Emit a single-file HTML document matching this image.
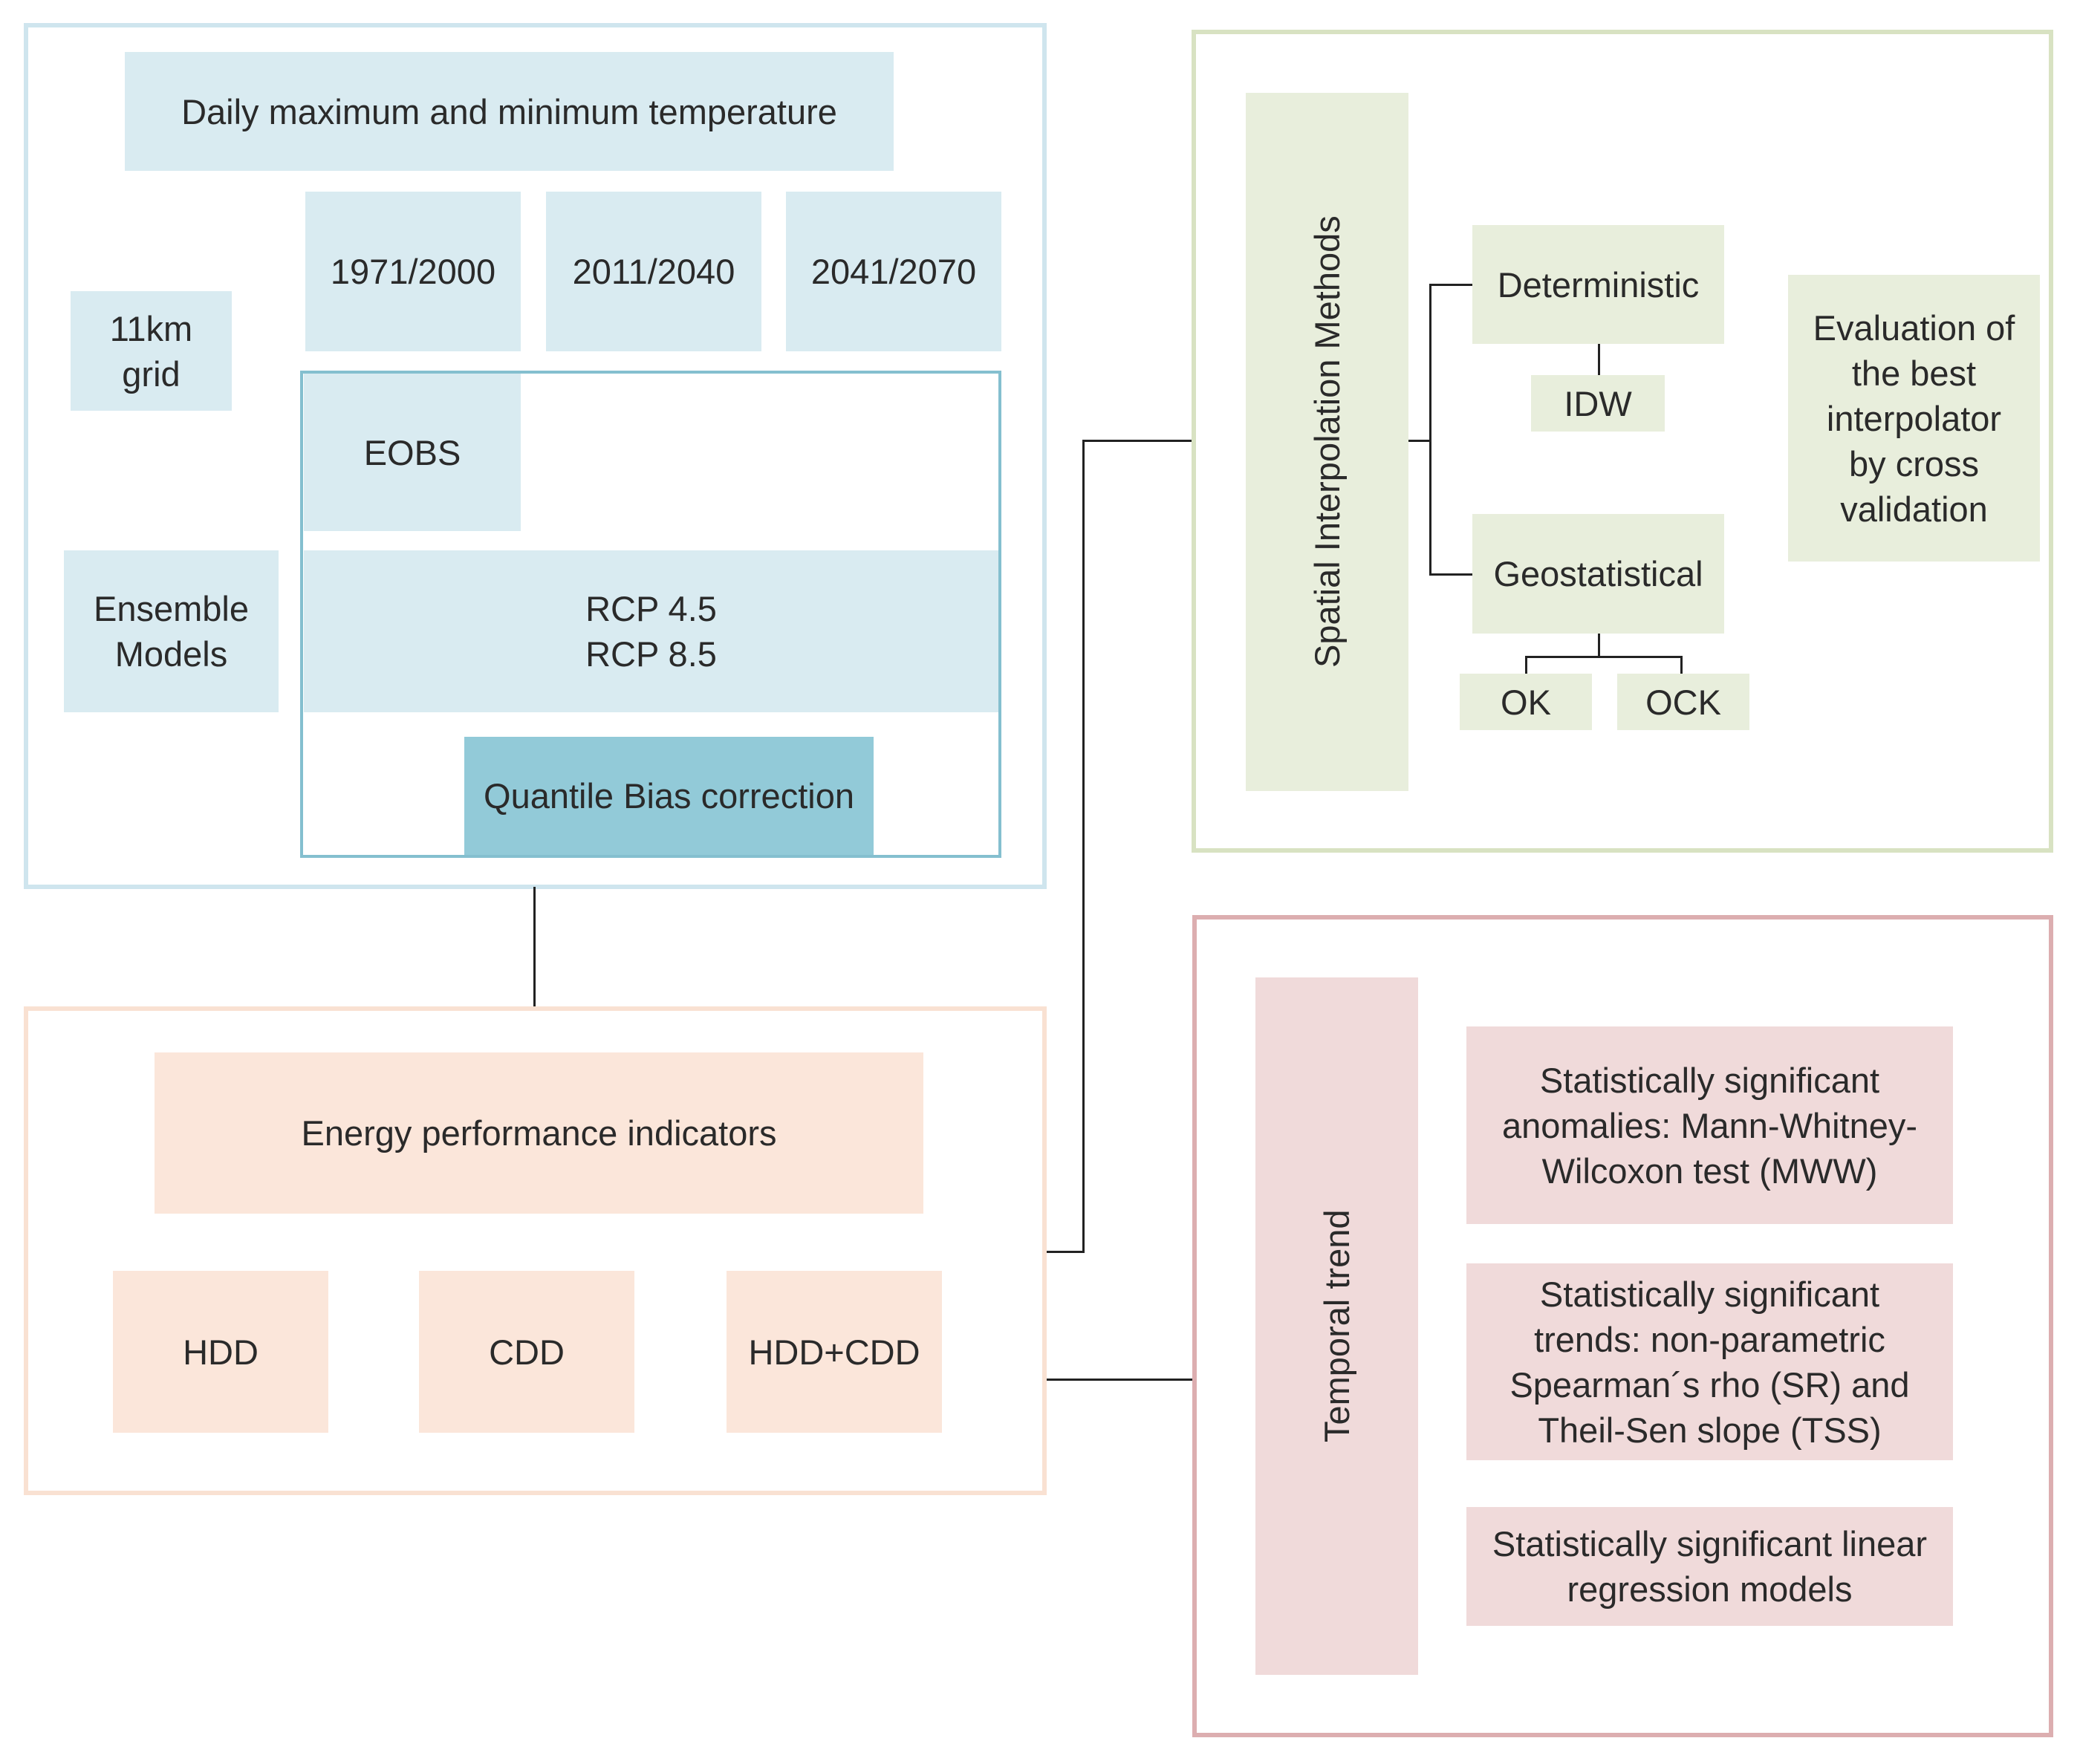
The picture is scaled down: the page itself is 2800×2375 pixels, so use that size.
<!DOCTYPE html>
<html><head><meta charset="utf-8"><style>
body{margin:0;background:#fff;}
#c{position:relative;width:2800px;height:2375px;overflow:hidden;font-family:"Liberation Sans",sans-serif;color:#2a2a2a;font-size:47px;}
.b{position:absolute;display:flex;align-items:center;justify-content:center;text-align:center;line-height:61px;box-sizing:border-box;white-space:nowrap;}
.o{position:absolute;box-sizing:border-box;}
.bl{background:#d9ebf1}.gr{background:#e8eedc}.or{background:#fbe6da}.pk{background:#f0dada}
.l{position:absolute;background:#222;}
.v{writing-mode:vertical-rl;transform:rotate(180deg);}
</style></head><body><div id="c">
<div class="o" style="left:32px;top:31px;width:1377px;height:1166px;border:6px solid #cfe5ee"></div>
<div class="b bl" style="left:168px;top:70px;width:1035px;height:160px">Daily maximum and minimum temperature</div>
<div class="b bl" style="left:411px;top:258px;width:290px;height:215px">1971/2000</div>
<div class="b bl" style="left:735px;top:258px;width:290px;height:215px">2011/2040</div>
<div class="b bl" style="left:1058px;top:258px;width:290px;height:215px">2041/2070</div>
<div class="b bl" style="left:95px;top:392px;width:217px;height:161px">11km<br>grid</div>
<div class="b bl" style="left:86px;top:741px;width:289px;height:218px">Ensemble<br>Models</div>
<div class="o" style="left:404px;top:499px;width:944px;height:656px;border:4px solid #84bfcf"></div>
<div class="b bl" style="left:409px;top:503px;width:292px;height:212px">EOBS</div>
<div class="b bl" style="left:409px;top:741px;width:935px;height:218px">RCP 4.5<br>RCP 8.5</div>
<div class="b" style="left:625px;top:992px;width:551px;height:159px;background:#92cad8">Quantile Bias correction</div>
<div class="l" style="left:718px;top:1194px;width:3px;height:163px"></div>
<div class="l" style="left:1458px;top:592px;width:146px;height:3px"></div>
<div class="l" style="left:1457px;top:592px;width:3px;height:1095px"></div>
<div class="l" style="left:1409px;top:1684px;width:51px;height:3px"></div>
<div class="l" style="left:1409px;top:1856px;width:196px;height:3px"></div>
<div class="o" style="left:1604px;top:40px;width:1160px;height:1108px;border:6px solid #d8e2c2"></div>
<div class="b gr v" style="left:1677px;top:125px;width:219px;height:940px">Spatial Interpolation Methods</div>
<div class="b gr" style="left:1982px;top:303px;width:339px;height:160px">Deterministic</div>
<div class="b gr" style="left:2061px;top:505px;width:180px;height:76px">IDW</div>
<div class="b gr" style="left:1982px;top:692px;width:339px;height:161px">Geostatistical</div>
<div class="b gr" style="left:1965px;top:907px;width:178px;height:76px">OK</div>
<div class="b gr" style="left:2177px;top:907px;width:178px;height:76px">OCK</div>
<div class="b gr" style="left:2407px;top:370px;width:339px;height:386px">Evaluation of<br>the best<br>interpolator<br>by cross<br>validation</div>
<div class="l" style="left:1896px;top:592px;width:30px;height:3px"></div>
<div class="l" style="left:1924px;top:382px;width:3px;height:392px"></div>
<div class="l" style="left:1924px;top:382px;width:58px;height:3px"></div>
<div class="l" style="left:1924px;top:772px;width:58px;height:3px"></div>
<div class="l" style="left:2151px;top:463px;width:3px;height:42px"></div>
<div class="l" style="left:2151px;top:853px;width:3px;height:32px"></div>
<div class="l" style="left:2053px;top:883px;width:212px;height:3px"></div>
<div class="l" style="left:2053px;top:883px;width:3px;height:24px"></div>
<div class="l" style="left:2262px;top:883px;width:3px;height:24px"></div>
<div class="o" style="left:32px;top:1355px;width:1377px;height:658px;border:6px solid #f9e1d2"></div>
<div class="b or" style="left:208px;top:1417px;width:1035px;height:217px">Energy performance indicators</div>
<div class="b or" style="left:152px;top:1711px;width:290px;height:218px">HDD</div>
<div class="b or" style="left:564px;top:1711px;width:290px;height:218px">CDD</div>
<div class="b or" style="left:978px;top:1711px;width:290px;height:218px">HDD+CDD</div>
<div class="o" style="left:1605px;top:1232px;width:1159px;height:1107px;border:6px solid #dcaeb0"></div>
<div class="b pk v" style="left:1690px;top:1316px;width:219px;height:939px">Temporal trend</div>
<div class="b pk" style="left:1974px;top:1382px;width:655px;height:266px">Statistically significant<br>anomalies: Mann-Whitney-<br>Wilcoxon test (MWW)</div>
<div class="b pk" style="left:1974px;top:1701px;width:655px;height:265px">Statistically significant<br>trends: non-parametric<br>Spearman´s rho (SR) and<br>Theil-Sen slope (TSS)</div>
<div class="b pk" style="left:1974px;top:2029px;width:655px;height:160px">Statistically significant linear<br>regression models</div>
</div></body></html>
